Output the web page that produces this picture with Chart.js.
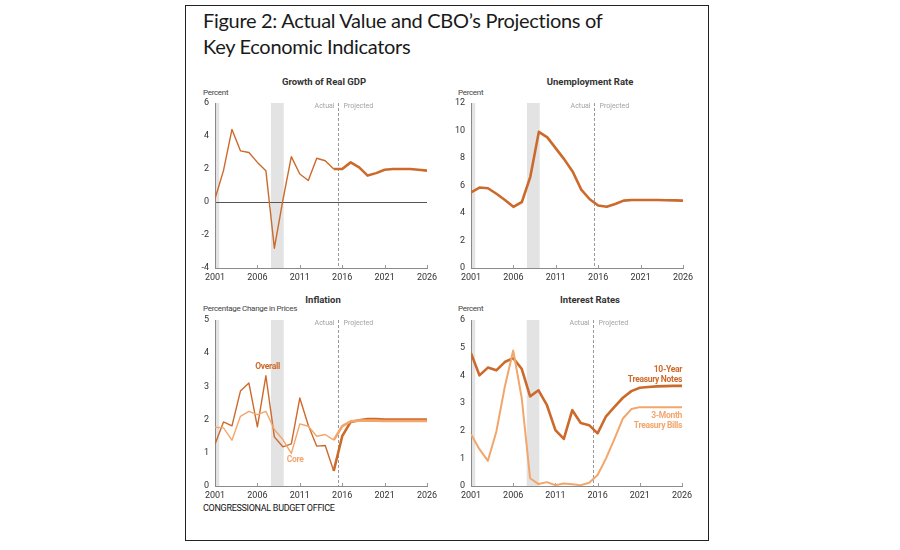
<!DOCTYPE html>
<html>
<head>
<meta charset="utf-8">
<script src="https://cdn.jsdelivr.net/npm/chart.js@4"></script>
<style>
  body { margin: 0; background: #fff; }
  #frame { position: absolute; left: 185px; top: 5px; width: 522px; height: 534px; border: 1.5px solid #222; }
  .t { position: absolute; white-space: nowrap; color: #222; font-family: 'Liberation Sans Narrow', Roboto, sans-serif; }
  .title { font-family: Lato, 'Open Sans', sans-serif; font-size: 20px; letter-spacing: -0.3px; line-height: 26px; color: #1a1a1a; }
  .pt { font-weight: bold; font-size: 9.5px; transform: translate(-50%, -50%); color: #333; }
  .unit { font-size: 8px; letter-spacing: -0.3px; transform: translateY(-50%); color: #444; }
  .src { font-size: 9px; letter-spacing: -0.3px; transform: translateY(-50%); color: #111; }
  canvas { position: absolute; }
</style>
</head>
<body>
<div id="frame"></div>
<div class="t title" style="left:203px; top:7px">Figure 2: Actual Value and CBO’s Projections of<br>Key Economic Indicators</div>

<div class="t pt" style="left:324px; top:81px">Growth of Real GDP</div>
<div class="t unit" style="left:203px; top:92px">Percent</div>
<div class="t pt" style="left:590px; top:81px">Unemployment Rate</div>
<div class="t unit" style="left:458px; top:92px">Percent</div>
<div class="t pt" style="left:323px; top:299px">Inflation</div>
<div class="t unit" style="left:203px; top:308px">Percentage Change in Prices</div>
<div class="t pt" style="left:590px; top:299px">Interest Rates</div>
<div class="t unit" style="left:458px; top:308px">Percent</div>
<div class="t src" style="left:203px; top:508px">CONGRESSIONAL BUDGET OFFICE</div>

<canvas id="gdpChart"></canvas>
<canvas id="unempChart"></canvas>
<canvas id="inflChart"></canvas>
<canvas id="rateChart"></canvas>

<script>
// --- data ---
const years = [2001, 2002, 2003, 2004, 2005, 2006, 2007, 2008, 2009, 2010, 2011, 2012, 2013,
  2014, 2015, 2016, 2017, 2018, 2019, 2020, 2021, 2022, 2023, 2024, 2025, 2026];
const xTicks = [2001, 2006, 2011, 2016, 2021, 2026];

const gdpGrowth = [0.2, 1.9, 4.4, 3.1, 3.0, 2.4, 1.9, -2.8, 0.1, 2.75, 1.7, 1.3, 2.65,
  2.5, 2.0, 2.0, 2.4, 2.1, 1.6, 1.75, 1.95, 2.0, 2.0, 2.0, 1.95, 1.9];
const unemploymentRate = [5.5, 5.85, 5.8, 5.4, 4.95, 4.45, 4.8, 6.65, 9.9, 9.5, 8.7, 7.9, 7.0,
  5.7, 5.0, 4.55, 4.45, 4.65, 4.9, 4.95, 4.95, 4.95, 4.95, 4.93, 4.92, 4.9];
const inflationOverall = [1.26, 1.93, 1.81, 2.86, 3.1, 1.78, 3.32, 1.48, 1.18, 1.27, 2.65, 1.83, 1.2,
  1.22, 0.45, 1.5, 1.93, 1.98, 2.02, 2.02, 2.0, 2.0, 2.0, 2.0, 2.0, 2.0];
const inflationCore = [1.77, 1.75, 1.38, 2.1, 2.25, 2.15, 2.25, 1.7, 1.4, 0.98, 1.87, 1.8, 1.5,
  1.55, 1.38, 1.8, 1.95, 1.97, 1.97, 1.97, 1.96, 1.96, 1.96, 1.96, 1.96, 1.96];
const tenYearNotes = [4.8, 4.0, 4.28, 4.18, 4.48, 4.62, 4.24, 3.24, 3.46, 2.92, 2.02, 1.7, 2.74,
  2.28, 2.2, 1.9, 2.52, 2.86, 3.19, 3.43, 3.55, 3.58, 3.6, 3.61, 3.62, 3.62];
const threeMonthBills = [1.87, 1.33, 0.91, 1.96, 3.58, 4.9, 3.2, 0.28, 0.07, 0.14, 0.03, 0.09, 0.06,
  0.03, 0.12, 0.4, 1.0, 1.7, 2.44, 2.78, 2.85, 2.85, 2.85, 2.85, 2.85, 2.85];

const gdpTicks = [-4, -2, 0, 2, 4, 6];
const unempTicks = [0, 2, 4, 6, 8, 10, 12];
const inflTicks = [0, 1, 2, 3, 4, 5];
const rateTicks = [0, 1, 2, 3, 4, 5, 6];

const recessions = [[2001, 2001.5], [2007.6, 2009.1]];
const projectionStart = 2015.45;

const darkOrange = '#cc6a2b';
const lightOrange = '#f2a66c';
const FONT = "'Liberation Sans Narrow', Roboto, sans-serif";

Chart.defaults.font.family = FONT;
Chart.defaults.font.size = 9;
Chart.defaults.color = '#333';

const pts = vals => years.map((yr, i) => ({ x: yr, y: vals[i] }));
const thinThenThick = c => c.p0.parsed.x >= 2015 ? 2.6 : 1.4;

// shading, zero line, projection marker
const backdrop = {
  id: 'backdrop',
  beforeDraw(chart) {
    const { ctx, chartArea: a, scales: { x, y } } = chart;
    ctx.save();
    ctx.fillStyle = '#e3e3e3';
    recessions.forEach(([s, e]) => {
      const x0 = x.getPixelForValue(s), x1 = x.getPixelForValue(e);
      ctx.fillRect(x0, a.top, x1 - x0, a.bottom - a.top);
    });
    if (y.min < 0) {
      const y0 = Math.round(y.getPixelForValue(0)) + 0.5;
      ctx.strokeStyle = '#555';
      ctx.lineWidth = 1;
      ctx.beginPath(); ctx.moveTo(a.left, y0); ctx.lineTo(a.right, y0); ctx.stroke();
    }
    const px = Math.round(x.getPixelForValue(projectionStart)) + 0.5;
    ctx.strokeStyle = '#999';
    ctx.setLineDash([3, 2]);
    ctx.beginPath(); ctx.moveTo(px, a.top); ctx.lineTo(px, a.bottom); ctx.stroke();
    ctx.setLineDash([]);
    ctx.fillStyle = '#a3a3a3';
    ctx.font = '7px ' + FONT;
    ctx.textBaseline = 'middle';
    ctx.textAlign = 'right';
    ctx.fillText('Actual', px - 4, a.top + 3);
    ctx.textAlign = 'left';
    ctx.fillText('Projected', px + 5, a.top + 3);
    // small inward ticks on the x axis
    ctx.strokeStyle = '#999';
    xTicks.slice(1).forEach(v => {
      const tx = Math.round(x.getPixelForValue(v)) + 0.5;
      ctx.beginPath(); ctx.moveTo(tx, a.bottom); ctx.lineTo(tx, a.bottom - 3); ctx.stroke();
    });
    ctx.restore();
  },
  afterDatasetsDraw(chart, args, opts) {
    const { ctx, scales: { x, y } } = chart;
    ctx.save();
    ctx.font = 'bold 8.5px ' + FONT;
    ctx.letterSpacing = '-0.3px';
    ctx.textBaseline = 'middle';
    (opts.notes || []).forEach(n => {
      ctx.fillStyle = n.color;
      ctx.textAlign = n.align || 'center';
      ctx.fillText(n.text, x.getPixelForValue(n.x), y.getPixelForValue(n.y));
    });
    ctx.restore();
  }
};

function makePanel(id, area, yTicks, datasets, notes) {
  const cv = document.getElementById(id);
  cv.width = area.r - area.l + 60;
  cv.height = area.b - area.t + 34;
  cv.style.left = (area.l - 40) + 'px';
  cv.style.top = (area.t - 12) + 'px';
  return new Chart(cv.getContext('2d'), {
    type: 'line',
    data: { datasets },
    plugins: [backdrop],
    options: {
      responsive: false,
      animation: false,
      layout: { padding: { top: 12, right: 20, left: 0, bottom: 0 } },
      elements: { point: { radius: 0 }, line: { tension: 0, borderJoinStyle: 'round' } },
      plugins: { legend: { display: false }, tooltip: { enabled: false }, backdrop: { notes } },
      scales: {
        x: {
          type: 'linear', min: 2001, max: 2026,
          grid: { display: false, drawTicks: false },
          border: { color: '#8a8a8a', width: 1 },
          afterBuildTicks: s => { s.ticks = xTicks.map(v => ({ value: v })); },
          afterFit: s => { s.height = 22; },
          ticks: { padding: 4, maxRotation: 0, callback: v => String(v), color: '#333' }
        },
        y: {
          min: yTicks[0], max: yTicks[yTicks.length - 1],
          grid: { display: false, drawTicks: false },
          border: { color: '#8a8a8a', width: 1 },
          afterBuildTicks: s => { s.ticks = yTicks.map(v => ({ value: v })); },
          afterFit: s => { s.width = 40; },
          ticks: { padding: 6, callback: v => String(v), color: '#333' }
        }
      }
    }
  });
}

makePanel('gdpChart', { l: 215, t: 103, r: 427, b: 268 }, gdpTicks, [
  { label: 'Real GDP growth', data: pts(gdpGrowth), borderColor: darkOrange,
    segment: { borderWidth: thinThenThick } }
], []);

makePanel('unempChart', { l: 471, t: 103, r: 683, b: 268 }, unempTicks, [
  { label: 'Unemployment rate', data: pts(unemploymentRate), borderColor: darkOrange, borderWidth: 2.6 }
], []);

makePanel('inflChart', { l: 215, t: 320, r: 427, b: 486 }, inflTicks, [
  { label: 'Core', data: pts(inflationCore), borderColor: lightOrange,
    segment: { borderWidth: thinThenThick } },
  { label: 'Overall', data: pts(inflationOverall), borderColor: darkOrange,
    segment: { borderWidth: thinThenThick } }
], [
  { text: 'Overall', x: 2007.2, y: 3.6, color: darkOrange },
  { text: 'Core', x: 2010.45, y: 0.78, color: lightOrange }
]);

makePanel('rateChart', { l: 471, t: 320, r: 682, b: 486 }, rateTicks, [
  { label: '3-Month Treasury Bills', data: pts(threeMonthBills), borderColor: lightOrange, borderWidth: 2 },
  { label: '10-Year Treasury Notes', data: pts(tenYearNotes), borderColor: darkOrange, borderWidth: 2.6 }
], [
  { text: '10-Year', x: 2026, y: 4.21, color: darkOrange, align: 'right' },
  { text: 'Treasury Notes', x: 2026, y: 3.84, color: darkOrange, align: 'right' },
  { text: '3-Month', x: 2026, y: 2.53, color: lightOrange, align: 'right' },
  { text: 'Treasury Bills', x: 2026, y: 2.16, color: lightOrange, align: 'right' }
]);
</script>
</body>
</html>
